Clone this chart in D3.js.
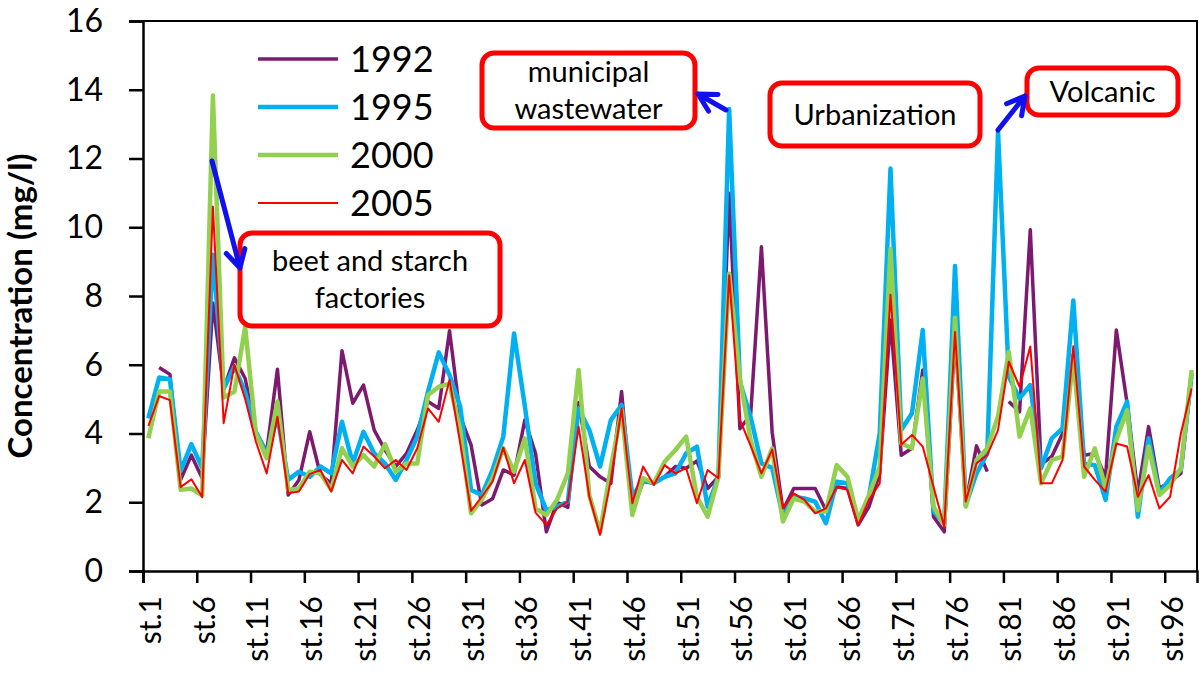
<!DOCTYPE html>
<html>
<head>
<meta charset="utf-8">
<script src="https://cdn.jsdelivr.net/npm/d3@7"></script>
<style>
  body { margin: 0; background: #fff; }
  text { font-family: Lato, "Open Sans", sans-serif; }
</style>
</head>
<body>
<div id="chart"></div>
<script>
var svgWidth = 1203;
var svgHeight = 698;

var margin = { top: 21, right: 6, bottom: 127, left: 143 };
var width = svgWidth - margin.left - margin.right;
var height = svgHeight - margin.top - margin.bottom;

// station names st.1 ... st.98
var stations = d3.range(1, 99).map(function(i) { return "st." + i; });

var years = ["1992", "1995", "2000", "2005"];
var colors = ["#7d1a70", "#00b0f0", "#92d050", "#ff0000"];
var widths = [3.5, 4.5, 4.5, 2];

var yTicks = [0, 2, 4, 6, 8, 10, 12, 14, 16];

// concentration (mg/l); null = no sample
var c1992 = [null, 5.92, 5.72, 2.65, 3.37, 2.7, 7.8, 5.3, 6.2, 5.6,
  4.05, 3.47, 5.87, 2.21, 2.65, 4.05, 2.8, 2.55, 6.41, 4.88,
  5.41, 4.1, 3.52, 3.04, 3.42, 4.1, 4.93, 4.73, 6.99, 4.49,
  3.67, 1.92, 2.1, 2.94, 2.79, 4.39, 3.42, 1.14, 2.0, 1.85,
  4.9, 3.04, 2.74, 2.55, 5.22, 1.73, 2.6, 2.55, 2.74, 3.04,
  2.99, 3.2, 2.4, 2.74, 10.99, 4.14, 4.55, 9.43, 4.03, 1.77,
  2.4, 2.4, 2.4, 1.77, 2.45, 2.4, 1.34, 1.87, 2.84, 7.3,
  3.37, 3.57, 5.85, 1.58, 1.14, 6.9, 1.97, 3.64, 2.89, null,
  4.93, 4.63, 9.93, 3.1, 3.33, 4.0, 6.3, 3.37, 3.42, 2.74,
  7.01, 4.88, 2.26, 4.2, 2.4, 2.6, 2.84, 5.65];

var c1995 = [4.44, 5.63, 5.58, 2.92, 3.69, 3.0, 9.2, 5.3, 5.94, 5.2,
  4.05, 3.4, 4.49, 2.65, 2.89, 2.74, 3.04, 2.84, 4.34, 3.13,
  4.05, 3.42, 3.13, 2.65, 3.23, 3.91, 5.22, 6.36, 5.7, 4.78,
  2.36, 2.21, 2.94, 3.91, 6.91, 4.8, 2.55, 1.77, 1.87, 2.02,
  4.73, 4.1, 3.04, 4.39, 4.83, 2.16, 2.65, 2.55, 2.74, 2.84,
  3.42, 3.62, 1.87, 2.74, 13.44, 5.5, 4.47, 3.13, 3.0, 1.58,
  2.16, 2.11, 2.02, 1.39, 2.6, 2.55, 1.48, 2.16, 4.0, 11.71,
  4.1, 4.59, 7.01, 1.73, 1.39, 8.87, 1.92, 2.84, 3.42, 12.77,
  5.65, 5.02, 5.41, 2.99, 3.86, 4.15, 7.87, 3.13, 3.08, 2.07,
  4.2, 4.93, 1.58, 3.86, 2.26, 2.7, 2.94, 5.75];

var c2000 = [3.86, 5.22, 5.22, 2.36, 2.4, 2.2, 13.83, 5.05, 5.22, 7.1,
  4.0, 3.28, 4.93, 2.36, 2.4, 2.89, 2.84, 2.36, 3.57, 3.04,
  3.37, 3.04, 3.69, 2.89, 3.13, 3.13, 5.12, 5.36, 5.45, 4.1,
  1.68, 2.07, 2.7, 3.57, 2.89, 3.86, 1.82, 1.63, 2.07, 2.84,
  5.85, 2.2, 1.14, 3.0, 4.68, 1.63, 2.7, 2.55, 3.18, 3.52,
  3.91, 2.16, 1.58, 2.74, 8.65, 5.6, 3.8, 2.74, 3.57, 1.44,
  2.11, 2.02, 1.73, 1.73, 3.08, 2.74, 1.48, 2.21, 3.04, 9.37,
  3.71, 3.57, 5.6, 1.87, 1.34, 7.37, 1.87, 3.23, 3.57, 4.5,
  6.38, 3.91, 4.73, 2.55, 3.23, 3.33, 6.2, 2.74, 3.57, 2.4,
  3.81, 4.68, 1.77, 3.62, 2.21, 2.5, 2.99, 5.85];

var c2005 = [4.22, 5.09, 4.97, 2.44, 2.67, 2.15, 10.6, 4.3, 6.0, 5.0,
  3.76, 2.84, 4.49, 2.26, 2.31, 2.82, 2.94, 2.31, 3.23, 2.84,
  3.62, 3.33, 2.99, 3.23, 2.94, 3.57, 4.73, 4.34, 5.56, 3.7,
  1.75, 2.16, 2.6, 3.59, 2.55, 3.23, 1.7, 1.34, 1.82, 2.02,
  4.2, 2.16, 1.05, 2.65, 4.73, 1.97, 3.04, 2.5, 3.08, 2.84,
  2.99, 1.97, 2.94, 2.7, 8.6, 4.4, 3.64, 2.84, 3.53, 1.82,
  2.26, 2.07, 1.68, 1.82, 2.45, 2.36, 1.34, 2.07, 2.55, 8.04,
  3.67, 3.96, 3.62, 2.45, 1.29, 6.95, 2.02, 3.13, 3.37, 4.1,
  6.09, 5.36, 6.53, 2.55, 2.55, 3.23, 6.54, 3.04, 2.65, 2.31,
  3.71, 3.62, 2.16, 2.79, 1.82, 2.16, 4.0, 5.31];

var series = [c1992, c1995, c2000, c2005];

var svg = d3.select("#chart")
  .append("svg")
  .attr("width", svgWidth)
  .attr("height", svgHeight);

var chartGroup = svg.append("g")
  .attr("transform", `translate(${margin.left}, ${margin.top})`);

// category scale (one band per station) + linear helper for tick marks on band edges
var xBand = d3.scaleBand().domain(stations).range([0, width]).padding(0);
var xEdge = d3.scaleLinear().domain([0, stations.length]).range([0, width]);
var yLinearScale = d3.scaleLinear().domain([0, 16]).range([height, 0]);

// plot frame (top and right)
chartGroup.append("path")
  .attr("d", `M0,0H${width}V${height}`)
  .attr("fill", "none")
  .attr("stroke", "#000")
  .attr("stroke-width", 2);

// y axis
var leftAxis = d3.axisLeft(yLinearScale)
  .tickValues(yTicks)
  .tickSize(14)
  .tickPadding(26)
  .tickFormat(d3.format("d"));

var yAxis = chartGroup.append("g").call(leftAxis);
yAxis.select(".domain").attr("stroke-width", 2.5);
yAxis.selectAll(".tick line").attr("stroke-width", 2.5);
yAxis.selectAll("text")
  .attr("font-size", 32)
  .attr("fill", "#000")
  .style("font-family", "Lato, sans-serif");

// x axis: tick marks on every 5th band edge
var bottomAxis = d3.axisBottom(xEdge)
  .tickValues(d3.range(0, 96, 5))
  .tickSize(12)
  .tickFormat("");

var xAxis = chartGroup.append("g")
  .attr("transform", `translate(0, ${height})`)
  .call(bottomAxis);
xAxis.select(".domain").attr("stroke-width", 2.5);
xAxis.selectAll(".tick line").attr("stroke-width", 2.5);

// station labels, every 5th, rotated
chartGroup.append("g")
  .selectAll("text")
  .data(stations.filter(function(d, i) { return i % 5 === 0; }))
  .enter()
  .append("text")
  .attr("transform", function(d) {
    return `translate(${xBand(d) + xBand.bandwidth() / 2 + 2}, ${height + 25}) rotate(-90)`;
  })
  .attr("dy", "0.35em")
  .attr("text-anchor", "end")
  .attr("font-size", 30)
  .text(function(d) { return d; });

// y axis title
chartGroup.append("text")
  .attr("transform", `translate(-111, ${height / 2 + 10}) rotate(-90)`)
  .attr("text-anchor", "middle")
  .attr("font-size", 33)
  .attr("font-weight", "bold")
  .text("Concentration (mg/l)");

// lines
var line = d3.line()
  .defined(function(d) { return d != null; })
  .x(function(d, i) { return xBand(stations[i]) + xBand.bandwidth() / 2; })
  .y(function(d) { return yLinearScale(d); });

series.forEach(function(s, k) {
  chartGroup.append("path")
    .datum(s)
    .attr("fill", "none")
    .attr("stroke", colors[k])
    .attr("stroke-width", widths[k])
    .attr("stroke-linejoin", "round")
    .attr("d", line);
});

// legend
var legend = chartGroup.append("g").attr("transform", "translate(115, 38)");
years.forEach(function(yr, k) {
  var g = legend.append("g").attr("transform", `translate(0, ${k * 48})`);
  g.append("line")
    .attr("x1", 0).attr("x2", 80)
    .attr("stroke", colors[k])
    .attr("stroke-width", widths[k]);
  g.append("text")
    .attr("x", 92)
    .attr("dy", "0.35em")
    .attr("font-size", 36)
    .text(yr);
});

// annotation boxes
var notes = [
  { x: 97, y: 212, w: 260, h: 93, lines: ["beet and starch", "factories"] },
  { x: 339, y: 32, w: 213, h: 75, lines: ["municipal", "wastewater"] },
  { x: 627, y: 62, w: 210, h: 63, lines: ["Urbanization"] },
  { x: 884, y: 47, w: 151, h: 47, lines: ["Volcanic"] }
];

notes.forEach(function(n) {
  chartGroup.append("rect")
    .attr("x", n.x).attr("y", n.y)
    .attr("width", n.w).attr("height", n.h)
    .attr("rx", 12)
    .attr("fill", "#fff")
    .attr("stroke", "#ff0000")
    .attr("stroke-width", 5);
  var lh = 37;
  var y0 = n.y + n.h / 2 - (n.lines.length - 1) * lh / 2;
  n.lines.forEach(function(t, j) {
    chartGroup.append("text")
      .attr("x", n.x + n.w / 2)
      .attr("y", y0 + j * lh)
      .attr("dy", "0.35em")
      .attr("text-anchor", "middle")
      .attr("font-size", 29)
      .text(t);
  });
});

// blue arrows (open heads)
var arrows = [
  { x1: 69, y1: 140, x2: 97, y2: 247 },
  { x1: 583, y1: 89, x2: 555, y2: 73 },
  { x1: 855, y1: 109, x2: 882, y2: 75 }
];

arrows.forEach(function(a) {
  var ang = Math.atan2(a.y2 - a.y1, a.x2 - a.x1);
  var len = 20;
  var w1 = [a.x2 - len * Math.cos(ang - 0.5), a.y2 - len * Math.sin(ang - 0.5)];
  var w2 = [a.x2 - len * Math.cos(ang + 0.5), a.y2 - len * Math.sin(ang + 0.5)];
  chartGroup.append("path")
    .attr("d", `M${a.x1},${a.y1}L${a.x2},${a.y2}M${w1[0]},${w1[1]}L${a.x2},${a.y2}L${w2[0]},${w2[1]}`)
    .attr("fill", "none")
    .attr("stroke", "#1010f0")
    .attr("stroke-width", 5)
    .attr("stroke-linecap", "round")
    .attr("stroke-linejoin", "round");
});
</script>
</body>
</html>
